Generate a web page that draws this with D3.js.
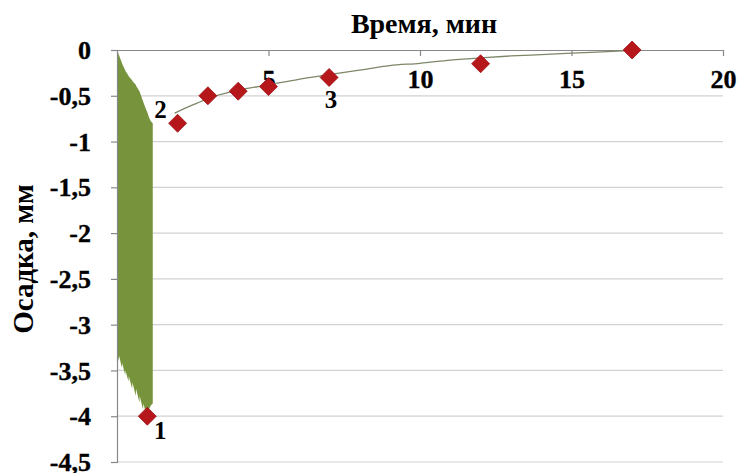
<!DOCTYPE html>
<html>
<head>
<meta charset="utf-8">
<script src="https://cdn.jsdelivr.net/npm/d3@7"></script>
<style>
  html, body { margin: 0; padding: 0; background: #fff; }
  svg text { font-family: "Liberation Serif", "Times New Roman", serif; font-weight: bold; fill: #000; }
</style>
</head>
<body>
<svg id="chart" width="739" height="473"></svg>
<script>
// Settlement measurements (time in minutes, settlement in mm)
const pointTime   = [1, 2, 3, 4, 5, 7, 12, 17];
const pointSettle = [-4, -0.8, -0.5, -0.45, -0.4, -0.3, -0.15, 0];

// Numbered stage labels attached to measurement points
const stageLabels = ["1", "2", "3"];
const stageIndex  = [0, 1, 5];

// Continuous settlement record after vibration
const recordTime   = [1.9, 2.5, 3, 4, 5, 6, 7, 8, 9, 10, 11, 12, 13, 14, 15, 16, 17];
const recordSettle = [-0.69, -0.6, -0.53, -0.44, -0.38, -0.32, -0.27, -0.22, -0.17, -0.145, -0.11, -0.085, -0.065, -0.05, -0.035, -0.02, -0.005];

// Envelope of the vibration record during the first minute
const vibTime  = [0, 0.06, 0.07, 0.16, 0.17, 0.27, 0.28, 0.38, 0.39, 0.5, 0.51, 0.62, 0.63, 0.74, 0.75, 0.86, 0.87, 0.96, 1.0, 1.06, 1.12, 1.18];
const vibUpper = [0, -0.05, -0.06, -0.14, -0.15, -0.22, -0.23, -0.28, -0.29, -0.33, -0.34, -0.38, -0.39, -0.45, -0.46, -0.56, -0.57, -0.65, -0.68, -0.74, -0.78, -0.8];
const vibLower = [-3.3, -3.4, -3.34, -3.47, -3.42, -3.55, -3.5, -3.62, -3.56, -3.7, -3.63, -3.78, -3.7, -3.85, -3.78, -3.93, -3.86, -3.97, -3.96, -3.92, -3.88, -3.86];

// Axis ticks
const xTicks = [5, 10, 15, 20];
const yTicks = [0, -0.5, -1, -1.5, -2, -2.5, -3, -3.5, -4, -4.5];

const svg = d3.select("#chart");
const x = d3.scaleLinear().domain([0, 20]).range([117, 723]);
const y = d3.scaleLinear().domain([-4.5, 0]).range([462, 50]);
const fmt = v => (v === 0 ? "0" : String(v).replace(".", ","));
const FONT = "'Liberation Serif', 'Times New Roman', serif";

// Horizontal gridlines
svg.append("g").selectAll("line").data(yTicks.filter(v => v !== 0)).join("line")
  .attr("x1", x(0)).attr("x2", x(20))
  .attr("y1", d => y(d)).attr("y2", d => y(d))
  .attr("stroke", "#d2d2d2").attr("stroke-width", 1.2);

// Vibration band
const band = d3.area()
  .x((d, i) => x(vibTime[i]))
  .y0((d, i) => y(vibLower[i]))
  .y1((d, i) => y(vibUpper[i]));
svg.append("path").datum(vibTime).attr("d", band).attr("fill", "#77933c");

// Shared styling for tick labels
const styleTicks = sel => sel
  .style("font-family", FONT).style("font-size", "26px").style("font-weight", "700")
  .attr("fill", "#000").attr("stroke", "#000").attr("stroke-width", 0.35);

// Y axis on the left
const yAxis = d3.axisLeft(y).tickValues(yTicks).tickFormat(fmt).tickSize(6).tickPadding(20);
const gy = svg.append("g").attr("transform", `translate(${x(0)},0)`).call(yAxis);
gy.select(".domain").attr("stroke", "#888").attr("stroke-width", 1.2);
gy.selectAll(".tick line").attr("stroke", "#888").attr("stroke-width", 1.2);
gy.selectAll(".tick text").attr("dy", "0.33em").call(styleTicks);

// X axis along the zero line at the top, ticks pointing into the plot
const xAxis = d3.axisBottom(x).tickValues(xTicks).tickFormat(d3.format("d")).tickSize(6).tickPadding(14).tickSizeOuter(0);
const gx = svg.append("g").attr("transform", `translate(0,${y(0)})`).call(xAxis);
gx.select(".domain").attr("stroke", "#888").attr("stroke-width", 1.2);
gx.selectAll(".tick line").attr("stroke", "#888").attr("stroke-width", 1.2);
gx.selectAll(".tick text").call(styleTicks);

// Settlement record line
svg.append("path").datum(recordTime)
  .attr("d", d3.line().x(t => x(t)).y((t, i) => y(recordSettle[i])).curve(d3.curveMonotoneX))
  .attr("fill", "none").attr("stroke", "#7d8868").attr("stroke-width", 1.3);

// Diamond markers
const r = 9;
svg.append("g").selectAll("path").data(pointTime).join("path")
  .attr("d", (d, i) => {
    const cx = x(d), cy = y(pointSettle[i]);
    return `M${cx},${cy - r}L${cx + r},${cy}L${cx},${cy + r}L${cx - r},${cy}Z`;
  })
  .attr("fill", "#b5171b").attr("stroke", "#a01216").attr("stroke-width", 0.8);

// Stage numbers
const labelOffset = [[13, 23], [-17, -5], [2, 31]];
svg.append("g").selectAll("text").data(stageLabels).join("text")
  .attr("x", (d, i) => x(pointTime[stageIndex[i]]) + labelOffset[i][0])
  .attr("y", (d, i) => y(pointSettle[stageIndex[i]]) + labelOffset[i][1])
  .attr("text-anchor", "middle").attr("font-size", 25).text(d => d);

// Axis titles
svg.append("text").attr("x", 424).attr("y", 33).attr("text-anchor", "middle")
  .attr("font-size", 28).text("Время, мин");
svg.append("text").attr("transform", "translate(33,259) rotate(-90)")
  .attr("text-anchor", "middle").attr("font-size", 29).text("Осадка, мм");
</script>
</body>
</html>
